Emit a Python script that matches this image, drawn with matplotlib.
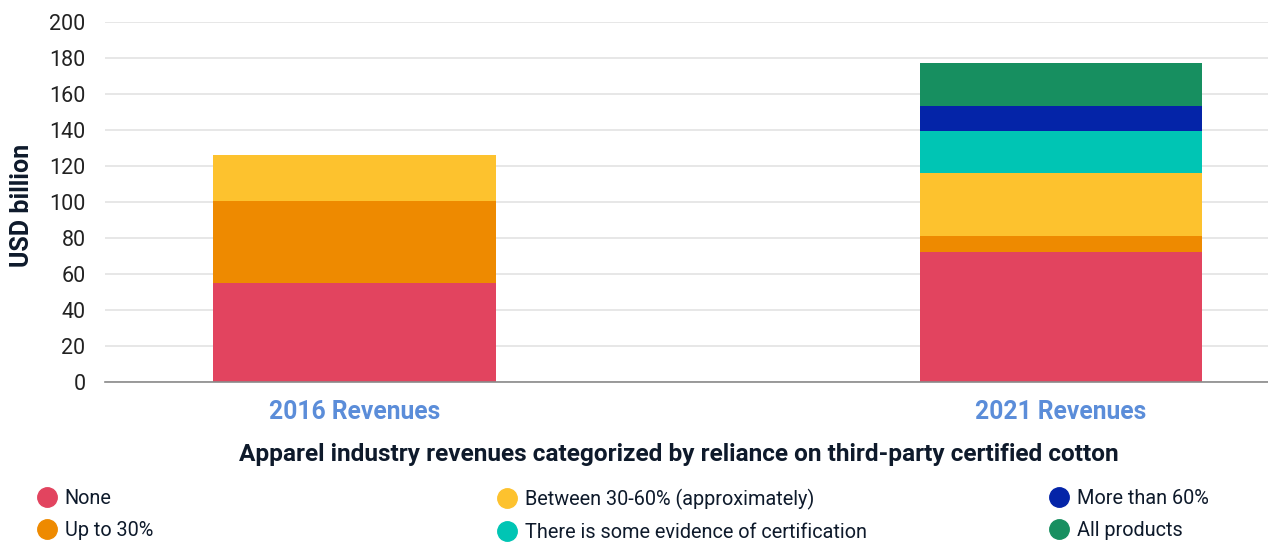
import matplotlib.pyplot as plt
from matplotlib.lines import Line2D
import numpy as np

plt.rcParams["font.family"] = ["Roboto", "DejaVu Sans"]

categories = ["2016 Revenues", "2021 Revenues"]
series_names = [
    "None",
    "Up to 30%",
    "Between 30-60% (approximately)",
    "There is some evidence of certification",
    "More than 60%",
    "All products",
]
none_vals = [55.2, 72.4]
upto30_vals = [45.3, 8.7]
between_vals = [25.8, 35.2]
evidence_vals = [0.0, 23.5]
more60_vals = [0.0, 13.7]
all_vals = [0.0, 23.7]
colors = ["#E2445F", "#EE8A00", "#FDC22E", "#00C5B4", "#0424A8", "#178F60"]
yticks = [0, 20, 40, 60, 80, 100, 120, 140, 160, 180, 200]

navy = "#0E1A2B"
series = [none_vals, upto30_vals, between_vals, evidence_vals, more60_vals, all_vals]

fig = plt.figure(figsize=(12.68, 5.42), dpi=100)
ax = fig.add_axes([105 / 1268, 1 - 382.3 / 542, 1 - 105 / 1268, (382.3 - 22.3) / 542])

x = np.arange(len(categories))
bottom = np.zeros(len(categories))
for vals, col in zip(series, colors):
    ax.bar(x, vals, width=0.4, bottom=bottom, color=col, zorder=3)
    bottom += np.asarray(vals)

ax.set_xlim(-0.353, 1.293)
ax.set_ylim(0, 200)
ax.set_yticks(yticks)
ax.tick_params(axis="y", length=0, pad=14, labelsize=15.5, labelcolor="#222222")
ax.set_xticks(x)
ax.set_xticklabels(categories, fontsize=17.7, fontweight="bold", color="#5B8DD9")
ax.tick_params(axis="x", length=0, pad=13)
ax.grid(axis="y", color="#E3E3E3", linewidth=1.2, zorder=0)
for s in ["top", "right", "left"]:
    ax.spines[s].set_visible(False)
ax.spines["bottom"].set_color("#8A8A8A")
ax.spines["bottom"].set_linewidth(1.2)
ax.spines["bottom"].set_zorder(4)

fig.text(22 / 1268, 1 - 205 / 542, "USD billion", rotation=90, ha="center", va="center",
         fontsize=18, fontweight="bold", color=navy)
fig.text(679 / 1268, 1 - 455 / 542,
         "Apparel industry revenues categorized by reliance on third-party certified cotton",
         ha="center", va="center", fontsize=17.6, fontweight="bold", color=navy)

col_x = [38, 498, 1050]
for i, cx in enumerate(col_x):
    handles = [Line2D([], [], marker="o", linestyle="", markersize=14,
                      markerfacecolor=colors[j], markeredgecolor=colors[j])
               for j in (2 * i, 2 * i + 1)]
    labels = [series_names[2 * i], series_names[2 * i + 1]]
    fig.legend(handles, labels, loc="upper left", bbox_to_anchor=(cx / 1268, 1 - 489 / 542),
               frameon=False, fontsize=14.3, handlelength=0.9, handletextpad=0.45,
               labelspacing=0.66, borderpad=0, borderaxespad=0, labelcolor=navy)

fig.savefig("out.png", dpi=100)
